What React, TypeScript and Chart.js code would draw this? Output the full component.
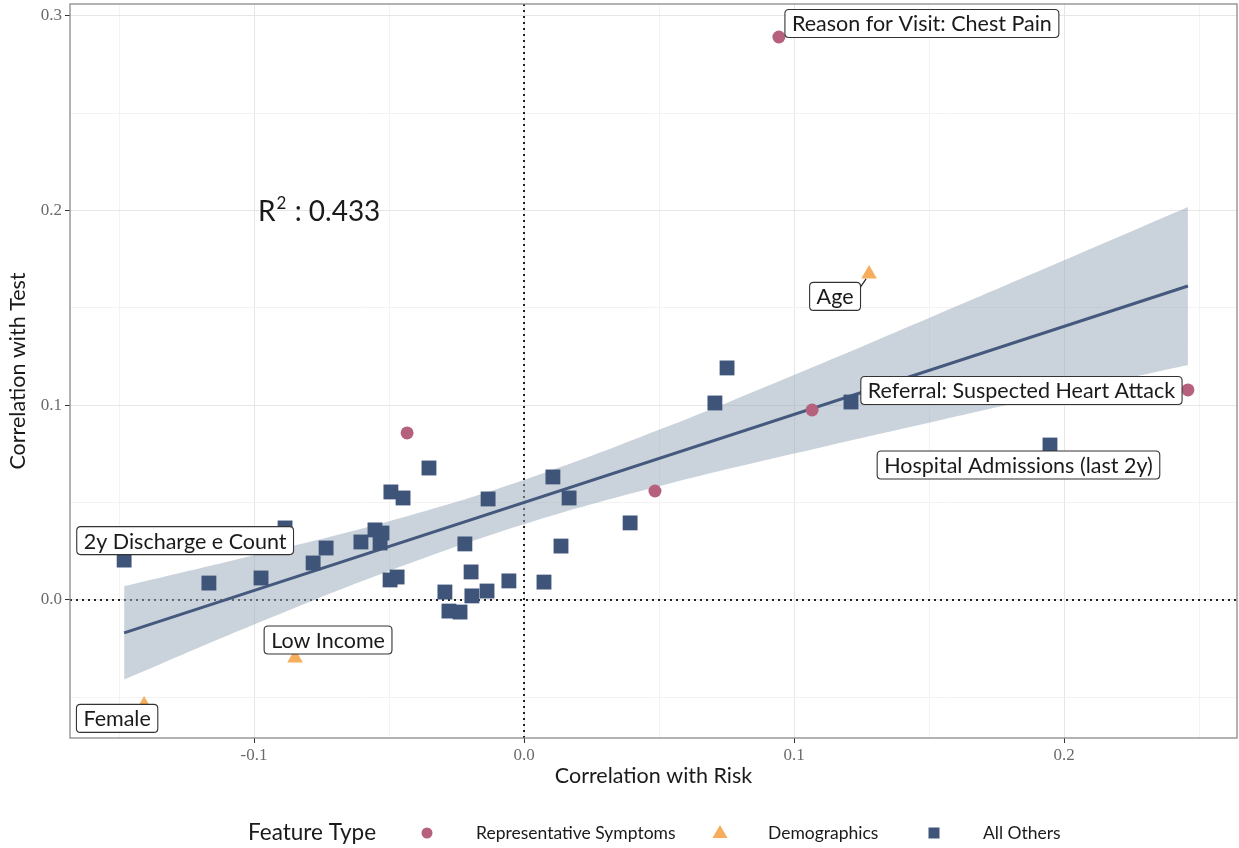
import React, { useEffect, useRef } from "react";
import { Chart, registerables } from "chart.js";
Chart.register(...registerables);

// ---- data ----
const symptomX = [0.0944, -0.0433, 0.1067, 0.0485, 0.2459];
const symptomY = [0.2892, 0.0858, 0.0976, 0.056, 0.1079];

const demoX = [0.1278, -0.0848, -0.1407];
const demoY = [0.1675, -0.0298, -0.0539];

const otherX = [
  -0.1481, -0.1167, -0.0974, -0.0885, -0.0781, -0.0733, -0.0604, -0.0552, -0.0526, -0.0533,
  -0.0493, -0.0448, -0.0496, -0.047, -0.0352, -0.0293, -0.0278, -0.0237, -0.0219, -0.0196,
  -0.0193, -0.0137, -0.0133, -0.0056, 0.0074, 0.0107, 0.0137, 0.0167, 0.0393, 0.0707,
  0.0752, 0.1211, 0.1948,
];
const otherY = [
  0.0205, 0.0087, 0.0113, 0.037, 0.019, 0.0267, 0.0298, 0.036, 0.0344, 0.0293,
  0.0555, 0.0524, 0.0103, 0.0118, 0.0678, 0.0041, -0.0057, -0.0062, 0.0288, 0.0144,
  0.0021, 0.0046, 0.0519, 0.0098, 0.0092, 0.0632, 0.0277, 0.0524, 0.0396, 0.1012,
  0.1192, 0.1017, 0.0796,
];

const fitX = [-0.1481, 0.2459];
const fitY = [-0.0169, 0.1613];

const bandX = [-0.1481, -0.1, -0.05, 0, 0.05, 0.1, 0.15, 0.2, 0.2459];
const bandUpper = [0.0071, 0.023, 0.0405, 0.0617, 0.0874, 0.1156, 0.1449, 0.1745, 0.2019];
const bandLower = [-0.0409, -0.0126, 0.0149, 0.0389, 0.0584, 0.0752, 0.0911, 0.1067, 0.1207];

const seriesNames = ["Representative Symptoms", "Demographics", "All Others"];
const legendTitle = "Feature Type";
const xTitle = "Correlation with Risk";
const yTitle = "Correlation with Test";
const r2Value = "0.433";

const labelTexts = [
  "Reason for Visit: Chest Pain",
  "Age",
  "Referral: Suspected Heart Attack",
  "Hospital Admissions (last 2y)",
  "2y Discharge e Count",
  "Low Income",
  "Female",
];

// ---- styles / placement ----
const COL_SYM = "#b5607d";
const COL_DEMO = "#f6ad5c";
const COL_OTHER = "#3e5479";
const COL_LINE = "#44597d";
const COL_BAND = "rgba(154,168,186,0.52)";
const LABEL_FONT = "Lato, 'Open Sans', sans-serif";
const TICK_FONT = "'Liberation Serif', 'DejaVu Serif', serif";

// label -> [datasetIndex, pointIndex, dx, dy, connector]
const labelPlacement: [number, number, number, number, boolean][] = [
  [2, 0, 143, -13.5, false],
  [3, 0, -34, 22.5, true],
  [2, 4, -166.5, 0.5, false],
  [4, 32, -31.5, 20, false],
  [4, 0, 61, -19.5, false],
  [3, 1, 33, -18, false],
  [3, 2, -27, 13.5, false],
];

const zip = (xs: number[], ys: number[]) => xs.map((x, i) => ({ x, y: ys[i] }));
const isMajor = (v: number) => Math.abs(Math.round(v * 10) - v * 10) < 1e-6;

function roundRect(ctx: CanvasRenderingContext2D, x: number, y: number, w: number, h: number, r: number) {
  ctx.beginPath();
  ctx.moveTo(x + r, y);
  ctx.lineTo(x + w - r, y);
  ctx.quadraticCurveTo(x + w, y, x + w, y + r);
  ctx.lineTo(x + w, y + h - r);
  ctx.quadraticCurveTo(x + w, y + h, x + w - r, y + h);
  ctx.lineTo(x + r, y + h);
  ctx.quadraticCurveTo(x, y + h, x, y + h - r);
  ctx.lineTo(x, y + r);
  ctx.quadraticCurveTo(x, y, x + r, y);
  ctx.closePath();
}

const decorPlugin = {
  id: "decor",
  beforeDatasetsDraw(chart: any) {
    const { ctx, chartArea: a, scales } = chart;
    const x0 = scales.x.getPixelForValue(0);
    const y0 = scales.y.getPixelForValue(0);
    ctx.save();
    ctx.strokeStyle = "#222";
    ctx.lineWidth = 2;
    ctx.setLineDash([2, 4]);
    ctx.beginPath();
    ctx.moveTo(a.left, y0);
    ctx.lineTo(a.right, y0);
    ctx.moveTo(x0, a.top);
    ctx.lineTo(x0, a.bottom);
    ctx.stroke();
    ctx.restore();
  },
  afterDraw(chart: any) {
    const { ctx, chartArea: a, scales } = chart;
    ctx.save();
    // panel border
    ctx.strokeStyle = "#8a8a8a";
    ctx.lineWidth = 1.3;
    ctx.strokeRect(a.left, a.top, a.right - a.left, a.bottom - a.top);

    // labels
    ctx.font = `21.5px ${LABEL_FONT}`;
    ctx.textBaseline = "middle";
    ctx.textAlign = "center";
    labelPlacement.forEach(([ds, idx, dx, dy, conn], i) => {
      const el = chart.getDatasetMeta(ds).data[idx];
      const px = el.x, py = el.y;
      const cx = px + dx, cy = py + dy;
      const text = labelTexts[i];
      const w = ctx.measureText(text).width + 14;
      const h = 28;
      if (conn) {
        ctx.strokeStyle = "#222";
        ctx.lineWidth = 1.2;
        ctx.beginPath();
        ctx.moveTo(cx + w / 2 - 1, cy - h / 2 + 6);
        ctx.lineTo(px - 3, py + 5);
        ctx.stroke();
      }
      roundRect(ctx, cx - w / 2, cy - h / 2, w, h, 4);
      ctx.fillStyle = "#ffffff";
      ctx.fill();
      ctx.strokeStyle = "#333";
      ctx.lineWidth = 1.1;
      ctx.stroke();
      ctx.fillStyle = "#1a1a1a";
      ctx.fillText(text, cx, cy + 1);
    });

    // R^2 annotation
    const rx = scales.x.getPixelForValue(-0.0985);
    const ry = scales.y.getPixelForValue(0.1945);
    ctx.textAlign = "left";
    ctx.textBaseline = "alphabetic";
    ctx.fillStyle = "#1a1a1a";
    ctx.font = `28px ${LABEL_FONT}`;
    ctx.fillText("R", rx, ry);
    let off = ctx.measureText("R").width + 1;
    ctx.font = `17px ${LABEL_FONT}`;
    ctx.fillText("2", rx + off, ry - 12);
    off += ctx.measureText("2").width + 1;
    ctx.font = `28px ${LABEL_FONT}`;
    ctx.fillText(" : " + r2Value, rx + off, ry);

    // axis titles
    ctx.fillStyle = "#1a1a1a";
    ctx.font = `21.5px ${LABEL_FONT}`;
    ctx.textAlign = "center";
    ctx.textBaseline = "middle";
    ctx.fillText(xTitle, (a.left + a.right) / 2, 776);
    ctx.save();
    ctx.translate(18, (a.top + a.bottom) / 2);
    ctx.rotate(-Math.PI / 2);
    ctx.fillText(yTitle, 0, 0);
    ctx.restore();

    // legend
    const ly = 833;
    ctx.textAlign = "left";
    ctx.font = `22.5px ${LABEL_FONT}`;
    ctx.fillText(legendTitle, 248, ly);
    ctx.font = `17.5px ${LABEL_FONT}`;
    const items = [
      { sx: 427, tx: 476, col: COL_SYM, shape: "circle" },
      { sx: 720, tx: 768, col: COL_DEMO, shape: "tri" },
      { sx: 934, tx: 983, col: COL_OTHER, shape: "rect" },
    ];
    items.forEach((it, i) => {
      ctx.fillStyle = it.col;
      ctx.beginPath();
      if (it.shape === "circle") {
        ctx.arc(it.sx, ly, 5.5, 0, Math.PI * 2);
      } else if (it.shape === "tri") {
        ctx.moveTo(it.sx, ly - 8);
        ctx.lineTo(it.sx + 7.5, ly + 5);
        ctx.lineTo(it.sx - 7.5, ly + 5);
        ctx.closePath();
      } else {
        ctx.rect(it.sx - 5.5, ly - 5.5, 11, 11);
      }
      ctx.fill();
      ctx.fillStyle = "#1a1a1a";
      ctx.fillText(seriesNames[i], it.tx, ly);
    });
    ctx.restore();
  },
};

export default function App() {
  const ref = useRef<HTMLCanvasElement | null>(null);
  useEffect(() => {
    document.body.style.margin = "0";
    const canvas = ref.current!;
    const gridColor = (c: any) => (isMajor(c.tick.value) ? "#e6e6e6" : "#f3f3f3");
    const tickColor = (c: any) => (isMajor(c.tick.value) ? "#333" : "rgba(0,0,0,0)");
    const chart = new Chart(canvas, {
      type: "scatter",
      data: {
        datasets: [
          {
            type: "line",
            label: "band-upper",
            data: zip(bandX, bandUpper),
            borderWidth: 0,
            pointRadius: 0,
            backgroundColor: COL_BAND,
            fill: "+1",
            tension: 0.4,
            order: 10,
          } as any,
          {
            type: "line",
            label: "band-lower",
            data: zip(bandX, bandLower),
            borderWidth: 0,
            pointRadius: 0,
            fill: false,
            tension: 0.4,
            order: 10,
          } as any,
          {
            label: seriesNames[0],
            data: zip(symptomX, symptomY),
            pointStyle: "circle",
            pointRadius: 6.5,
            backgroundColor: COL_SYM,
            borderWidth: 0,
            order: 1,
          },
          {
            label: seriesNames[1],
            data: zip(demoX, demoY),
            pointStyle: "triangle",
            pointRadius: 9,
            backgroundColor: COL_DEMO,
            borderWidth: 0,
            order: 1,
          },
          {
            label: seriesNames[2],
            data: zip(otherX, otherY),
            pointStyle: "rect",
            pointRadius: 10.5,
            backgroundColor: COL_OTHER,
            borderWidth: 0,
            order: 1,
          },
          {
            type: "line",
            label: "fit",
            data: zip(fitX, fitY),
            borderColor: COL_LINE,
            borderWidth: 3,
            pointRadius: 0,
            fill: false,
            order: 5,
          } as any,
        ],
      },
      options: {
        responsive: false,
        animation: false,
        layout: { autoPadding: false, padding: { top: 4, right: 2, left: 0, bottom: 0 } },
        plugins: { legend: { display: false }, tooltip: { enabled: false } },
        scales: {
          x: {
            type: "linear",
            position: "bottom",
            min: -0.16815,
            max: 0.26407,
            afterFit: (s: any) => {
              s.height = 110;
              s.paddingLeft = 0;
              s.paddingRight = 0;
            },
            ticks: {
              stepSize: 0.05,
              includeBounds: false,
              autoSkip: false,
              maxRotation: 0,
              padding: 2,
              color: "#6b6b6b",
              font: { family: TICK_FONT, size: 17 },
              callback: (v: any) => (isMajor(Number(v)) ? Number(v).toFixed(1) : ""),
            },
            grid: { color: gridColor, tickColor, tickLength: 5, lineWidth: 1 },
            border: { display: false },
          },
          y: {
            type: "linear",
            min: -0.0709,
            max: 0.30616,
            afterFit: (s: any) => {
              s.width = 70;
              s.paddingTop = 0;
              s.paddingBottom = 0;
            },
            ticks: {
              stepSize: 0.05,
              includeBounds: false,
              autoSkip: false,
              padding: 3,
              color: "#6b6b6b",
              font: { family: TICK_FONT, size: 17 },
              callback: (v: any) => (isMajor(Number(v)) ? Number(v).toFixed(1) : ""),
            },
            grid: { color: gridColor, tickColor, tickLength: 5, lineWidth: 1 },
            border: { display: false },
          },
        },
      },
      plugins: [decorPlugin],
    });
    return () => chart.destroy();
  }, []);
  return (
    <div style={{ position: "absolute", left: 0, top: 0 }}>
      <canvas ref={ref} width={1239} height={848} style={{ display: "block" }} />
    </div>
  );
}
